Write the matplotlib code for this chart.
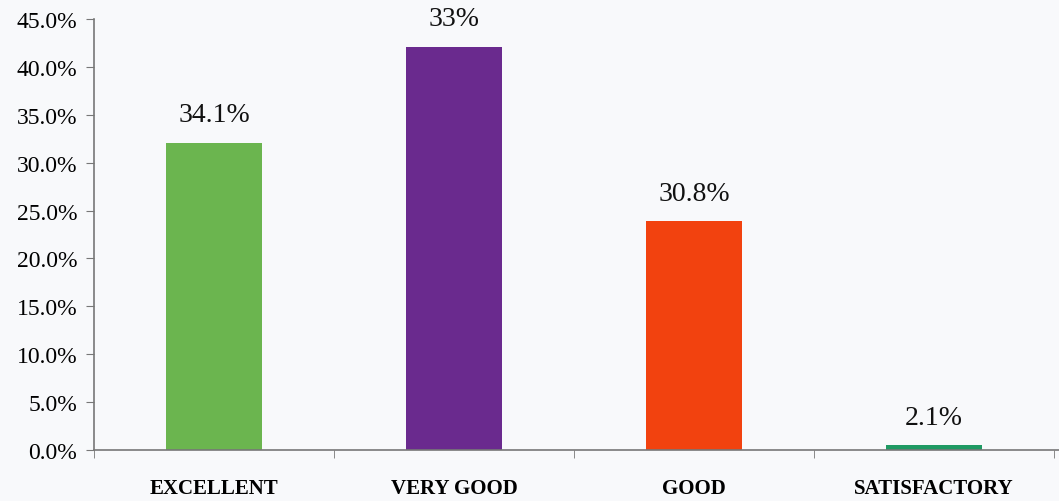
import matplotlib.pyplot as plt
import numpy as np
from matplotlib.ticker import PercentFormatter

categories = ["EXCELLENT", "VERY GOOD", "GOOD", "SATISFACTORY"]
heights = [32.1, 42.1, 23.9, 0.5]
labels = ["34.1%", "33%", "30.8%", "2.1%"]
colors = ["#6bb54f", "#6a2a8e", "#f2420f", "#1f9a63"]

plt.rcParams['font.family'] = ['Liberation Serif', 'DejaVu Serif']

fig = plt.figure(figsize=(10.59, 5.02), dpi=100, facecolor="#f8f9fb")
ax = fig.add_axes([0.0888, 0.1016, 0.9112, 0.8586])
ax.set_facecolor("#f8f9fb")

x = np.arange(len(categories))
ax.bar(x, heights, width=0.4, color=colors)
for xi, h, lab in zip(x, heights, labels):
    ax.text(xi, h + 1.6, lab, ha="center", va="bottom", fontsize=20, color="#111111")

ax.set_xlim(-0.5, 3.52)
ax.set_ylim(0, 45)
ax.set_yticks(np.arange(0, 46, 5))
ax.yaxis.set_major_formatter(PercentFormatter(decimals=1))
ax.tick_params(axis="y", labelsize=17, length=6, color="#777777", pad=6)

ax.set_xticks(x)
ax.set_xticklabels(categories, fontweight="bold", fontsize=15)
ax.tick_params(axis="x", length=0, pad=20)
ax.set_xticks(np.arange(-0.5, 3.6, 1), minor=True)
ax.tick_params(axis="x", which="minor", length=6, color="#777777")

for s in ["top", "right"]:
    ax.spines[s].set_visible(False)
for s in ["left", "bottom"]:
    ax.spines[s].set_color("#777777")
    ax.spines[s].set_linewidth(1.2)

fig.savefig("out.png", dpi=100, facecolor=fig.get_facecolor())
